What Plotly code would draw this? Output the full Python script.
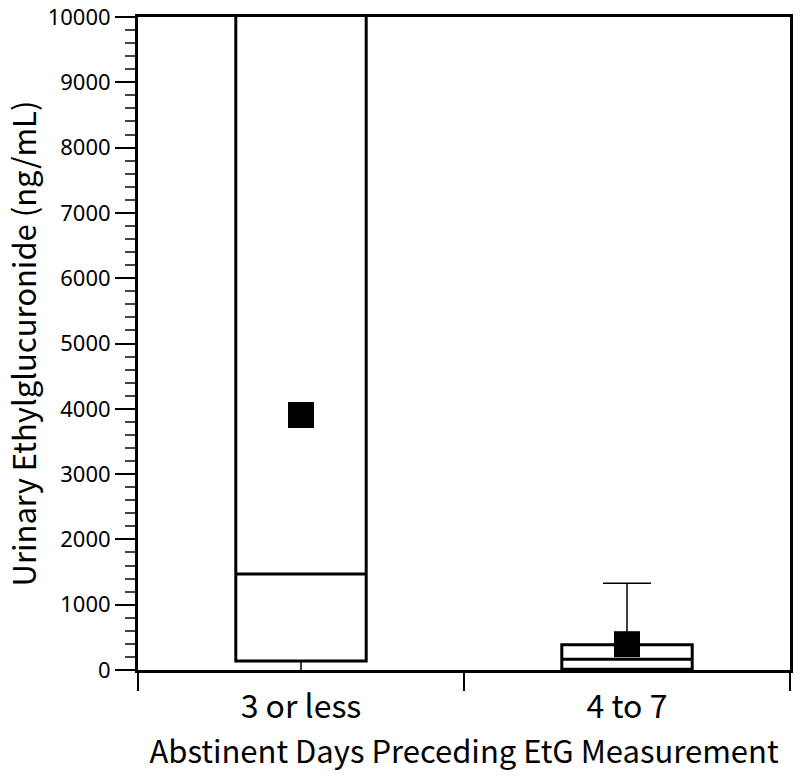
import plotly.graph_objects as go

# abstinence groups
groups = ["3 or less", "4 to 7"]

# box summary values (ng/mL)
q1 = [138, 10]
median = [1470, 165]
q3 = [11000, 385]
lower_whisker = [0, 0]
upper_whisker = [12000, 1330]
mean_etg = [3905, 395]

y_ticks = [0, 1000, 2000, 3000, 4000, 5000, 6000, 7000, 8000, 9000, 10000]

fig = go.Figure()

# boxes drawn without whiskers; whiskers come from error bars below
fig.add_trace(go.Box(
    x=groups,
    q1=q1,
    median=median,
    q3=q3,
    lowerfence=q1,
    upperfence=q3,
    width=0.4,
    fillcolor="white",
    line=dict(color="black", width=3),
    hoverinfo="skip",
    showlegend=False,
))

# upper whiskers with caps
fig.add_trace(go.Scatter(
    x=groups,
    y=q3,
    mode="markers",
    marker=dict(size=1, color="rgba(0,0,0,0)"),
    error_y=dict(
        type="data",
        symmetric=False,
        array=[u - h for u, h in zip(upper_whisker, q3)],
        arrayminus=[0, 0],
        color="black",
        thickness=1.5,
        width=24,
    ),
    showlegend=False,
))

# lower whiskers
fig.add_trace(go.Scatter(
    x=groups,
    y=q1,
    mode="markers",
    marker=dict(size=1, color="rgba(0,0,0,0)"),
    error_y=dict(
        type="data",
        symmetric=False,
        array=[0, 0],
        arrayminus=[lo - w for lo, w in zip(q1, lower_whisker)],
        color="black",
        thickness=1.5,
        width=0,
    ),
    showlegend=False,
))

# means
fig.add_trace(go.Scatter(
    x=groups,
    y=mean_etg,
    mode="markers",
    marker=dict(symbol="square", size=26, color="black"),
    showlegend=False,
))

font_family = "Noto Sans CJK JP"

fig.update_layout(
    width=800,
    height=777,
    margin=dict(l=138, r=10, t=17, b=107),
    plot_bgcolor="white",
    paper_bgcolor="white",
    font=dict(family=font_family, color="black", size=22),
    xaxis=dict(
        type="category",
        range=[-0.5, 1.5],
        tickson="boundaries",
        ticks="outside",
        ticklen=18,
        tickwidth=1.5,
        tickcolor="black",
        ticklabelstandoff=7,
        showline=True,
        linewidth=3,
        linecolor="black",
        mirror=True,
        showgrid=False,
        automargin=False,
        tickfont=dict(size=32),
        title=dict(text="Abstinent Days Preceding EtG Measurement",
                   font=dict(size=31), standoff=12),
    ),
    yaxis=dict(
        range=[0, 10000],
        tickvals=y_ticks,
        ticktext=[str(v) for v in y_ticks],
        ticks="outside",
        ticklen=20,
        tickwidth=2,
        tickcolor="black",
        ticklabeloverflow="allow",
        minor=dict(dtick=200, ticks="outside", ticklen=10, tickwidth=1.5,
                   tickcolor="#444"),
        showline=True,
        linewidth=3,
        linecolor="black",
        mirror=True,
        showgrid=False,
        zeroline=False,
        automargin=False,
        tickfont=dict(family="Noto Sans", size=22),
        title=dict(text="Urinary Ethylglucuronide (ng/mL)",
                   font=dict(size=31), standoff=8),
    ),
)

fig.write_html("out.html", config={"displayModeBar": False},
               post_script="document.body.style.margin='0px';")
